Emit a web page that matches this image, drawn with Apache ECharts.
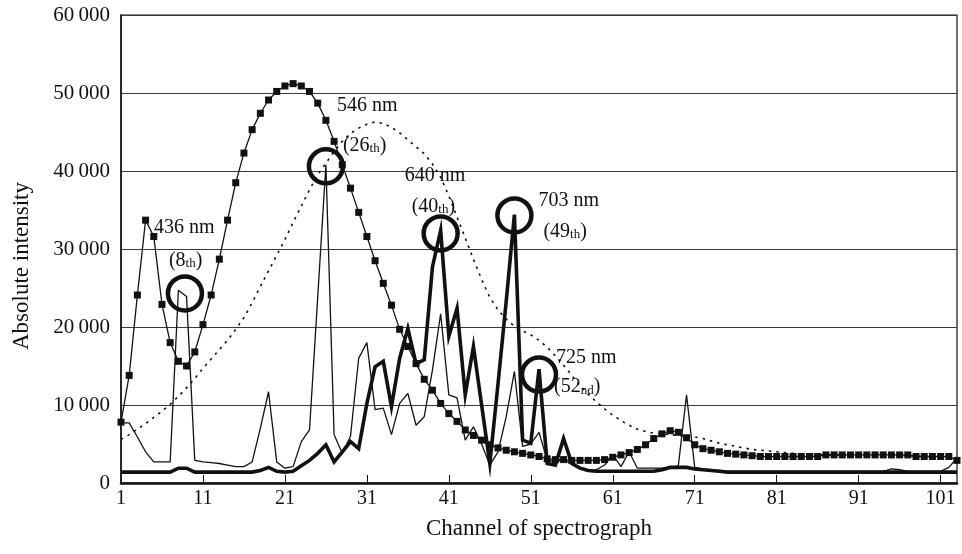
<!DOCTYPE html>
<html>
<head>
<meta charset="utf-8">
<script src="https://cdn.jsdelivr.net/npm/echarts@6/dist/echarts.min.js"></script>
<style>
  html, body { margin: 0; padding: 0; background: #ffffff; }
  #chart { width: 962px; height: 554px; }
</style>
</head>
<body>
<div id="chart"></div>
<script>
// Spectrograph channels 1..103
const channels = Array.from({ length: 103 }, (_, i) => i + 1);

// Broad-band source, drawn with square markers
const squareSeries = [
  7800, 13800, 24100, 33700, 31600, 22900, 18000, 15600, 15000, 16800,
  20300, 24100, 28700, 33700, 38500, 42300, 45300, 47400, 49100, 50200,
  50900, 51200, 50900, 50200, 48700, 46500, 43800, 40800, 37800, 34700,
  31600, 28500, 25600, 22800, 19700, 17500, 15300, 13300, 11900, 10200,
  8900, 7900, 6800, 6100, 5500, 4900, 4500, 4200, 4000, 3800,
  3600, 3400, 3100, 3000, 3000, 2900, 2900, 2900, 2900, 3000,
  3300, 3600, 3900, 4300, 4900, 5700, 6300, 6700, 6500, 5800,
  4900, 4400, 4200, 4000, 3800, 3700, 3600, 3500, 3400, 3400,
  3400, 3400, 3400, 3400, 3400, 3400, 3600, 3600, 3600, 3600,
  3600, 3600, 3600, 3600, 3600, 3600, 3600, 3400, 3400, 3400,
  3400, 3400, 2900
];

// Smooth continuous source, drawn dotted
const dottedSeries = [
  5600, 6200, 6900, 7600, 8400, 9200, 10100, 11100, 12200, 13400,
  14700, 15900, 17100, 18300, 19700, 21200, 23100, 25200, 27200, 29200,
  31200, 33400, 35500, 37600, 39500, 41000, 42500, 43800, 44800, 45500,
  46000, 46300, 46100, 45600, 44900, 44000, 43100, 42200, 40900, 39200,
  36800, 34100, 31400, 28700, 26100, 23800, 22200, 21000, 20100, 19500,
  19000, 18300, 17400, 16300, 15100, 13800, 12500, 11400, 10400, 9500,
  8700, 8000, 7400, 6900, 6600, 6400, 6300, 6200, 6100, 6000,
  5900, 5700, 5400, 5100, 4900, 4700, 4500, 4300, 4200, 4100,
  4000, 3900, 3800, 3700, 3700, 3600, 3600, 3600, 3600, 3600,
  3600, 3600, 3600, 3600, 3600, 3500, 3500, 3400, 3400, 3400,
  3300, 3200, 3000
];

// Line-emission source, thin line
const thinSeries = [
  7700, 7700, 5900, 4000, 2700, 2700, 2700, 24700, 23900, 2900,
  2700, 2600, 2500, 2300, 2100, 2100, 2700, 7000, 11700, 2700,
  1900, 2100, 5300, 6800, 23800, 40800, 6200, 3800, 6000, 16000,
  18000, 9400, 9600, 6200, 10200, 11500, 7400, 8500, 14500, 21700,
  11300, 10900, 5500, 7200, 5000, 2300, 4000, 8500, 14300, 4700,
  5000, 6500, 2900, 2700, 3000, 2500, 1900, 1500, 1700, 2300,
  3600, 2100, 4000, 1900, 1900, 1900, 1900, 2000, 2200, 11300,
  2000, 1800, 1700, 1600, 1500, 1500, 1500, 1500, 1500, 1500,
  1500, 1500, 1500, 1500, 1500, 1500, 1500, 1500, 1500, 1500,
  1500, 1500, 1500, 1500, 1800, 1700, 1500, 1500, 1500, 1500,
  1500, 2000, 3200
];

// Line-emission source, thick line
const thickSeries = [
  1400, 1400, 1400, 1400, 1400, 1400, 1400, 1900, 1900, 1400,
  1400, 1400, 1400, 1400, 1400, 1400, 1400, 1600, 2000, 1500,
  1400, 1500, 2200, 2900, 3800, 4900, 2700, 4000, 5300, 4400,
  10200, 14900, 15600, 9800, 16000, 19800, 15300, 15800, 27700, 32400,
  18800, 22400, 11300, 17500, 10000, 2500, 12700, 23300, 34400, 5500,
  5100, 14600, 2500, 2300, 5700, 2500, 1900, 1600, 1500, 1500,
  1500, 1500, 1500, 1500, 1500, 1500, 1700, 2000, 2000, 2000,
  1800, 1700, 1600, 1500, 1400, 1400, 1400, 1400, 1400, 1400,
  1400, 1400, 1400, 1400, 1400, 1400, 1400, 1400, 1400, 1400,
  1400, 1400, 1400, 1400, 1400, 1400, 1400, 1400, 1400, 1400,
  1400, 1400, 1400
];

// Highlighted emission peaks
const peakChannels = [8.8, 26, 40, 49, 52];
const peakValues = [24300, 40600, 32000, 34300, 13900];
const peakWavelengths = ['436 nm', '546 nm', '640 nm', '703 nm', '725 nm'];
const peakOrdinals = [['8', 'th'], ['26', 'th'], ['40', 'th'], ['49', 'th'], ['52', 'nd']];

// Axis ticks
const xTickLabels = [1, 11, 21, 31, 41, 51, 61, 71, 81, 91, 101];
const yTickValues = [0, 10000, 20000, 30000, 40000, 50000, 60000];
const yTickLabels = ['0', '10\u2009000', '20\u2009000', '30\u2009000', '40\u2009000', '50\u2009000', '60\u2009000'];

// Label placement around each circle (pixels)
const wavelengthOffsets = [[-31, -66], [11, -61], [-36, -58], [24, -15], [17, -17]];
const ordinalOffsets = [[-16, -35], [17, -23], [-29, -29], [29, 14], [15, 10]];

const FONT = '"Liberation Serif", "DejaVu Serif", serif';
const INK = '#111111';

const pairs = arr => channels.map((c, i) => [c, arr[i]]);
const peakPoints = peakChannels.map((c, i) => [c, peakValues[i]]);

const chart = echarts.init(document.getElementById('chart'), null, { renderer: 'canvas' });

const option = {
  animation: false,
  backgroundColor: '#ffffff',
  grid: {
    left: 121, right: 5, top: 15, bottom: 71,
    show: true, borderColor: INK, borderWidth: 1.2, backgroundColor: 'transparent'
  },
  xAxis: {
    type: 'value',
    min: 1,
    max: 103,
    name: 'Channel of spectrograph',
    nameLocation: 'middle',
    nameGap: 34,
    nameTextStyle: { fontFamily: FONT, fontSize: 23, color: INK },
    axisLine: { show: true, lineStyle: { color: INK, width: 2.5 } },
    axisTick: { show: true, inside: true, length: 8, customValues: xTickLabels, lineStyle: { color: INK, width: 1 } },
    axisLabel: { customValues: xTickLabels, fontFamily: FONT, fontSize: 20, color: INK, margin: 6 },
    splitLine: { show: false }
  },
  yAxis: {
    type: 'value',
    min: 0,
    max: 60000,
    interval: 10000,
    name: 'Absolute intensity',
    nameLocation: 'middle',
    nameGap: 88,
    nameTextStyle: { fontFamily: FONT, fontSize: 23, color: INK, padding: [0, 34, 0, 0] },
    axisLine: { show: true, lineStyle: { color: INK, width: 1.5 } },
    axisTick: { show: false },
    axisLabel: {
      fontFamily: FONT, fontSize: 21, color: INK, margin: 11,
      formatter: v => yTickLabels[yTickValues.indexOf(v)]
    },
    splitLine: { show: true, lineStyle: { color: '#3a3a3a', width: 1 } }
  },
  series: [
    {
      name: 'dotted',
      type: 'line',
      data: pairs(dottedSeries),
      showSymbol: false,
      lineStyle: { color: INK, width: 1.6, type: [2.5, 5] },
      z: 2
    },
    {
      name: 'squares',
      type: 'line',
      data: pairs(squareSeries),
      symbol: 'rect',
      symbolSize: 7,
      showAllSymbol: true,
      itemStyle: { color: INK },
      lineStyle: { color: INK, width: 1.3 },
      z: 3
    },
    {
      name: 'thin',
      type: 'line',
      data: pairs(thinSeries),
      showSymbol: false,
      lineStyle: { color: INK, width: 1.3 },
      z: 4
    },
    {
      name: 'thick',
      type: 'line',
      data: pairs(thickSeries),
      showSymbol: false,
      lineStyle: { color: INK, width: 3.6, join: 'miter' },
      z: 5
    },
    {
      name: 'peaks',
      type: 'scatter',
      data: peakPoints,
      symbol: 'circle',
      symbolSize: 34,
      itemStyle: { color: 'rgba(0,0,0,0)', borderColor: INK, borderWidth: 4.5, opacity: 1 },
      z: 6
    },
    {
      name: 'wavelength',
      type: 'scatter',
      symbolSize: 1,
      itemStyle: { color: 'rgba(0,0,0,0)', opacity: 1 },
      data: peakPoints.map((p, i) => ({
        value: p,
        label: {
          show: true,
          position: 'inside',
          align: 'left',
          verticalAlign: 'middle',
          offset: wavelengthOffsets[i],
          formatter: peakWavelengths[i],
          fontFamily: FONT, fontSize: 20, color: INK, opacity: 1
        }
      })),
      z: 7
    },
    {
      name: 'ordinal',
      type: 'scatter',
      symbolSize: 1,
      itemStyle: { color: 'rgba(0,0,0,0)', opacity: 1 },
      data: peakPoints.map((p, i) => ({
        value: p,
        label: {
          show: true,
          position: 'inside',
          align: 'left',
          verticalAlign: 'middle',
          offset: ordinalOffsets[i],
          opacity: 1,
          formatter: '{m|(' + peakOrdinals[i][0] + '}{s|' + peakOrdinals[i][1] + '}{m|)}',
          rich: {
            m: { fontFamily: FONT, fontSize: 20, color: INK, lineHeight: 24, verticalAlign: 'bottom' },
            s: { fontFamily: FONT, fontSize: 13, color: INK, lineHeight: 24, verticalAlign: 'bottom' }
          }
        }
      })),
      z: 7
    }
  ]
};

chart.setOption(option);
</script>
</body>
</html>
